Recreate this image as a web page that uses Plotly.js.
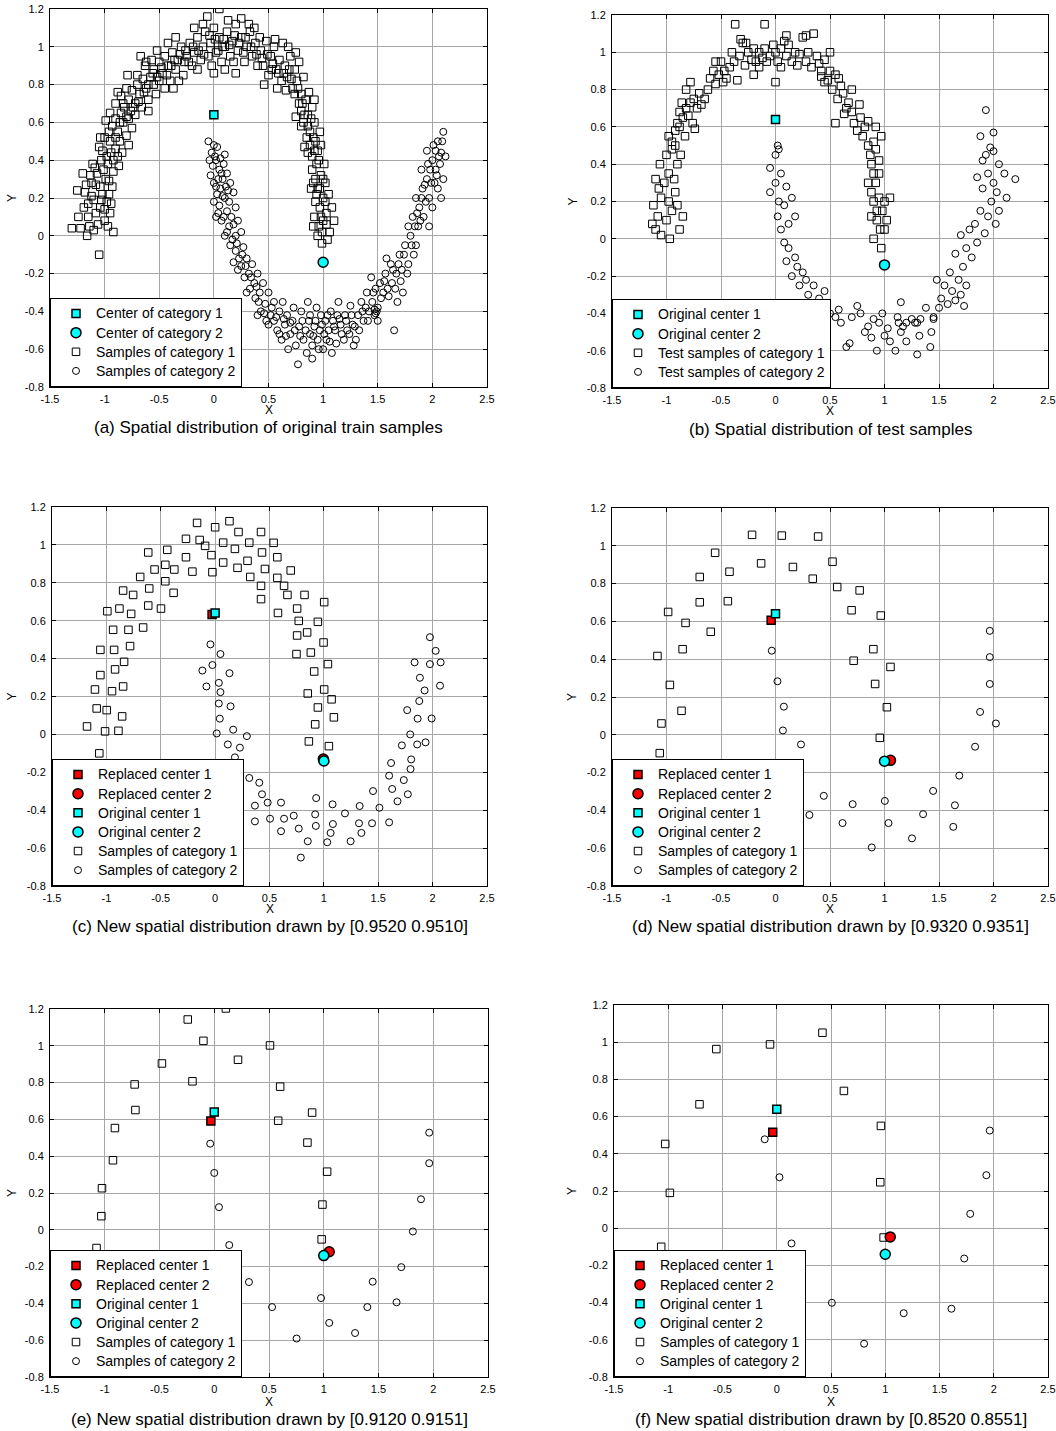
<!DOCTYPE html>
<html>
<head>
<meta charset="utf-8">
<script src="https://cdn.plot.ly/plotly-3.0.1.min.js"></script>
<style>html,body{margin:0;padding:0;background:#fff}#chart{width:1056px;height:1431px}</style>
</head>
<body>
<div id="chart"></div>
<script>
// ---------- tick labels ----------
const xTickVals = [-1.5,-1,-0.5,0,0.5,1,1.5,2,2.5];
const xTickText = ['-1.5','-1','-0.5','0','0.5','1','1.5','2','2.5'];
const yTickVals = [-0.8,-0.6,-0.4,-0.2,0,0.2,0.4,0.6,0.8,1,1.2];
const yTickText = ['-0.8','-0.6','-0.4','-0.2','0','0.2','0.4','0.6','0.8','1','1.2'];

// ---------- captions ----------
const captions = [
  '(a) Spatial distribution of original train samples',
  '(b) Spatial distribution of test samples',
  '(c) New spatial distribution drawn by [0.9520 0.9510]',
  '(d) New spatial distribution drawn by [0.9320 0.9351]',
  '(e) New spatial distribution drawn by [0.9120 0.9151]',
  '(f) New spatial distribution drawn by [0.8520 0.8551]'
];

// ---------- centers ----------
const origCenter1 = [0.0, 0.64];
const origCenter2 = [1.0, -0.14];
const replCenter1_c = [-0.028, 0.633];
const replCenter2_c = [0.995, -0.13];
const replCenter1_d = [-0.04, 0.606];
const replCenter2_d = [1.055, -0.135];
const replCenter1_e = [-0.031, 0.591];
const replCenter2_e = [1.05, -0.119];
const replCenter1_f = [-0.037, 0.516];
const replCenter2_f = [1.046, -0.047];

// ---------- (a) original train samples ----------
const a_cat1 = [
[-1.22,0.04],[-1.25,0.24],[-1.18,0.23],[-1.12,0.21],[-1.15,0.1],[-1.1,0.03],[-1.05,-0.1],[-1.2,0.33],[-1.13,0.32],[-1.08,0.27],
[-1.02,0.22],[-0.98,0.18],[-0.95,0.12],[-1.0,0.08],[-1.08,0.12],[-1.04,0.15],[-0.92,0.02],[-0.99,0.3],[-1.15,0.17],[-1.06,0.06],
[-0.93,0.26],[-1.01,0.35],[-1.09,0.36],[-0.96,0.22],[-1.3,0.04],[-1.17,0.27],[-1.03,0.19],[-0.97,0.05],[-1.12,0.28],[-0.94,0.17],
[-1.05,0.47],[-1.02,0.45],[-0.98,0.42],[-0.95,0.5],[-0.92,0.4],[-0.9,0.46],[-0.88,0.55],[-0.97,0.38],[-1.0,0.52],[-0.93,0.58],
[-0.86,0.5],[-0.84,0.44],[-0.9,0.62],[-0.8,0.53],[-0.96,0.55],[-0.92,0.34],[-0.87,0.37],[-1.03,0.4],[-0.83,0.6],[-0.78,0.48],
[-0.99,0.61],[-0.85,0.65],[-0.75,0.57],[-0.88,0.42],[-0.8,0.63],
[-0.95,0.65],[-0.9,0.7],[-0.85,0.74],[-0.82,0.68],[-0.78,0.72],[-0.75,0.77],[-0.72,0.7],[-0.7,0.8],[-0.76,0.66],[-0.8,0.78],
[-0.68,0.75],[-0.65,0.83],[-0.62,0.78],[-0.6,0.72],[-0.72,0.64],[-0.66,0.68],[-0.58,0.84],[-0.55,0.8],[-0.7,0.85],[-0.63,0.9],
[-0.88,0.76],[-0.6,0.66],[-0.53,0.75],[-0.79,0.85],[-0.67,0.95],
[-0.55,0.88],[-0.5,0.92],[-0.47,0.86],[-0.45,0.95],[-0.42,0.9],[-0.4,0.82],[-0.38,0.97],[-0.35,0.88],[-0.33,0.93],[-0.3,1.0],
[-0.28,0.85],[-0.25,0.95],[-0.22,1.02],[-0.2,0.9],[-0.5,0.82],[-0.45,0.78],[-0.37,0.78],[-0.52,0.98],[-0.42,1.02],[-0.32,0.82],
[-0.27,0.92],[-0.18,0.97],[-0.15,1.05],[-0.57,0.93],[-0.35,1.05],
[-0.12,0.93],[-0.1,1.0],[-0.08,1.08],[-0.05,0.95],[-0.03,1.02],[0.0,1.1],[0.02,0.97],[0.05,1.05],[0.07,0.92],[0.1,1.0],
[0.12,1.08],[0.15,0.95],[0.17,1.03],[0.2,1.12],[0.22,0.98],[0.25,1.05],[0.28,0.92],[0.3,1.0],[0.33,1.08],[0.35,0.95],
[0.38,1.02],[0.4,0.9],[-0.06,1.16],[0.05,1.2],[0.13,1.14],[0.25,1.15],[-0.15,0.88],[0.0,0.86],[0.1,0.88],[0.2,0.86],
[-0.02,0.9],[0.27,0.97],[0.32,1.12],[-0.1,1.12],[0.08,1.0],[0.18,0.92],[-0.18,1.1],[0.42,1.05],
[0.43,0.98],[0.45,0.9],[0.48,1.03],[0.5,0.85],[0.52,0.95],[0.55,1.0],[0.57,0.88],[0.6,0.93],[0.62,0.82],[0.63,1.02],
[0.65,0.9],[0.67,0.84],[0.7,0.95],[0.72,0.78],[0.74,0.88],[0.76,0.82],[0.78,0.92],[0.8,0.75],[0.46,0.8],[0.58,0.78],
[0.68,1.0],[0.53,0.88],[0.66,0.77],[0.82,0.84],[0.75,0.97],
[0.78,0.7],[0.8,0.66],[0.82,0.6],[0.84,0.72],[0.86,0.64],[0.88,0.55],[0.9,0.68],[0.85,0.52],[0.92,0.6],[0.88,0.48],
[0.9,0.42],[0.93,0.5],[0.95,0.45],[0.97,0.55],[0.8,0.58],[0.75,0.63],[0.83,0.47],[0.94,0.38],[0.87,0.76],[0.98,0.48],[0.92,0.72],
[0.9,0.35],[0.93,0.3],[0.95,0.25],[0.98,0.32],[1.0,0.2],[1.02,0.28],[0.97,0.15],[0.93,0.18],[1.03,0.12],[1.05,0.22],
[0.96,0.05],[1.0,0.08],[1.06,0.02],[0.92,0.1],[0.99,-0.04],[1.08,0.15],[1.01,0.38],[0.89,0.25],[1.04,-0.02],[0.95,0.0],[0.98,0.1],[1.1,0.08],
[-1.19,0.15],[-1.14,0.05],[-1.1,0.19],[-1.07,0.33],[-1.04,0.26],[-1.0,0.14],[-0.96,0.29],[-1.11,0.38],[-1.04,0.52],[-0.94,0.44],
[-0.9,0.52],[-0.86,0.6],[-0.83,0.7],[-0.78,0.62],[-0.74,0.68],[-0.69,0.71],[-0.64,0.76],[-0.6,0.8],[-0.56,0.86],[-0.52,0.84],
[-0.48,0.89],[-0.43,0.85],[-0.39,0.9],[-0.36,0.93],[-0.31,0.96],[-0.26,0.98],[-0.23,0.92],[-0.19,1.0],[-0.14,0.98],[-0.09,0.96],
[-0.04,1.06],[0.01,1.04],[0.04,0.98],[0.09,1.04],[0.14,1.01],[0.19,1.06],[0.23,1.02],[0.29,1.05],[0.34,1.0],[0.39,0.96],
[0.44,0.94],[0.49,0.96],[0.54,0.91],[0.59,0.86],[0.64,0.86],[0.69,0.88],[0.71,0.83],[0.74,0.75],[0.77,0.78],[0.81,0.7],
[0.83,0.64],[0.86,0.58],[0.89,0.62],[0.91,0.52],[0.86,0.44],[0.92,0.45],[0.96,0.4],[0.91,0.28],[0.97,0.25],[1.0,0.3],
[0.94,0.22],[1.02,0.18],[0.99,0.02],[1.03,0.06],[0.91,0.05],[-1.16,0.0],[-1.24,0.1],[-0.62,0.92],[0.37,1.1],[0.56,1.04]
];
const a_cat2 = [
[-0.05,0.5],[0.0,0.48],[0.03,0.47],[-0.02,0.44],[0.1,0.43],[0.02,0.4],[0.05,0.35],[-0.03,0.32],[0.08,0.3],[0.12,0.33],
[0.0,0.28],[0.06,0.25],[0.15,0.28],[0.03,0.22],[0.1,0.2],[0.18,0.23],[0.05,0.16],[0.12,0.13],[0.2,0.15],[0.07,0.08],
[0.14,0.05],[0.02,0.1],[0.22,0.08],[0.1,0.0],[0.17,-0.02],[0.04,0.3],[0.09,0.38],[0.13,0.24],[-0.01,0.37],[0.16,0.1],[0.25,0.02],[0.0,0.18],
[0.15,-0.05],[0.2,-0.08],[0.23,-0.12],[0.27,-0.06],[0.25,-0.16],[0.3,-0.12],[0.32,-0.2],[0.28,-0.22],[0.35,-0.15],[0.37,-0.25],
[0.4,-0.2],[0.33,-0.28],[0.42,-0.3],[0.45,-0.25],[0.38,-0.33],[0.47,-0.36],[0.5,-0.3],[0.43,-0.4],[0.52,-0.42],[0.55,-0.35],
[0.48,-0.45],[0.22,-0.18],[0.3,-0.3],[0.4,-0.42],[0.18,-0.14],
[0.55,-0.45],[0.58,-0.5],[0.6,-0.4],[0.62,-0.55],[0.65,-0.47],[0.67,-0.42],[0.7,-0.52],[0.72,-0.45],[0.75,-0.58],[0.77,-0.68],
[0.78,-0.48],[0.8,-0.4],[0.82,-0.55],[0.85,-0.62],[0.87,-0.45],[0.88,-0.52],[0.9,-0.58],[0.92,-0.48],[0.94,-0.38],[0.95,-0.55],
[0.97,-0.5],[1.0,-0.6],[1.02,-0.45],[1.03,-0.55],[1.05,-0.5],[1.07,-0.4],[1.1,-0.48],[1.12,-0.57],[1.15,-0.44],[1.17,-0.52],
[1.2,-0.42],[1.22,-0.5],[1.25,-0.37],[1.27,-0.47],[1.3,-0.55],[1.32,-0.42],[0.63,-0.35],[0.73,-0.38],[0.9,-0.65],[1.08,-0.62],
[0.98,-0.42],[1.28,-0.58],[0.68,-0.6],[0.86,-0.35],[1.14,-0.35],
[1.35,-0.35],[1.37,-0.45],[1.4,-0.3],[1.42,-0.4],[1.45,-0.35],[1.47,-0.42],[1.48,-0.28],[1.5,-0.38],[1.52,-0.25],[1.55,-0.3],
[1.57,-0.2],[1.6,-0.32],[1.62,-0.15],[1.63,-0.25],[1.65,-0.5],[1.67,-0.2],[1.7,-0.1],[1.72,-0.18],[1.75,-0.05],[1.73,-0.3],
[1.58,-0.12],[1.68,-0.35],[1.5,-0.45],[1.78,-0.15],[1.44,-0.22],
[1.8,0.0],[1.82,0.1],[1.85,-0.05],[1.87,0.05],[1.88,0.15],[1.9,0.2],[1.92,0.1],[1.93,0.27],[1.95,0.3],[1.97,0.2],
[1.98,0.35],[2.0,0.4],[2.02,0.28],[2.03,0.45],[2.05,0.5],[2.07,0.38],[2.08,0.44],[2.1,0.3],[2.0,0.15],[1.95,0.45],
[2.05,0.25],[1.9,0.35],[1.85,0.2],[2.1,0.55],[2.12,0.42],[1.97,0.05],[1.83,-0.1],[2.03,0.35],[1.78,0.05],[2.08,0.2],
[0.01,0.42],[0.06,0.41],[-0.04,0.4],[0.07,0.33],[0.02,0.26],[0.11,0.26],[0.08,0.21],[0.14,0.18],[0.04,0.12],[0.09,0.1],
[0.18,0.06],[0.12,0.02],[0.2,0.0],[0.21,-0.04],[0.26,-0.1],[0.29,-0.16],[0.34,-0.22],[0.39,-0.27],[0.41,-0.35],[0.46,-0.41],
[0.5,-0.47],[0.53,-0.38],[0.57,-0.43],[0.6,-0.52],[0.64,-0.44],[0.66,-0.53],[0.7,-0.46],[0.74,-0.5],[0.79,-0.53],[0.81,-0.45],
[0.84,-0.5],[0.88,-0.42],[0.91,-0.53],[0.93,-0.45],[0.96,-0.6],[0.99,-0.47],[1.01,-0.52],[1.04,-0.42],[1.06,-0.56],[1.09,-0.45],
[1.11,-0.5],[1.13,-0.42],[1.16,-0.47],[1.19,-0.55],[1.21,-0.45],[1.24,-0.52],[1.26,-0.42],[1.29,-0.48],[1.33,-0.5],[1.36,-0.4],
[1.39,-0.38],[1.41,-0.45],[1.46,-0.3],[1.49,-0.4],[1.53,-0.33],[1.56,-0.24],[1.59,-0.28],[1.64,-0.18],[1.66,-0.28],[1.69,-0.15],
[1.71,-0.24],[1.74,-0.1],[1.77,-0.2],[1.81,-0.05],[1.84,0.05],[1.86,0.12],[1.89,0.08],[1.91,0.25],[1.94,0.18],[1.96,0.38],
[1.99,0.28],[2.01,0.48],[2.04,0.32],[2.06,0.42],[2.09,0.5],[1.47,-0.39],[1.48,-0.41]
];

// ---------- (b) test samples ----------
const b_cat1 = [
[-1.1,0.05],[-1.05,0.02],[-1.0,0.1],[-1.08,0.12],[-1.12,0.18],[-1.05,0.22],[-0.98,0.2],[-0.95,0.15],[-1.02,0.3],[-1.1,0.32],
[-0.92,0.25],[-0.9,0.18],[-0.97,0.0],[-0.88,0.05],[-1.06,0.4],[-0.98,0.35],[-0.93,0.32],[-0.9,0.4],[-1.0,0.45],[-0.95,0.48],
[-0.87,0.45],[-1.07,0.27],[-0.85,0.12],[-1.13,0.08],
[-0.98,0.55],[-0.95,0.52],[-0.92,0.58],[-0.9,0.62],[-0.88,0.6],[-0.85,0.65],[-0.82,0.7],[-0.8,0.66],[-0.78,0.73],[-0.75,0.75],
[-0.72,0.7],[-0.7,0.78],[-0.83,0.55],[-0.76,0.62],[-0.88,0.68],[-0.92,0.5],[-0.68,0.72],[-0.65,0.75],[-0.82,0.8],[-0.78,0.84],
[-0.74,0.59],[-0.86,0.73],
[-0.62,0.8],[-0.6,0.86],[-0.57,0.9],[-0.55,0.83],[-0.52,0.88],[-0.5,0.95],[-0.47,0.9],[-0.45,0.86],[-0.42,0.92],[-0.4,1.0],
[-0.38,0.95],[-0.35,0.85],[-0.33,0.98],[-0.3,1.05],[-0.28,0.93],[-0.25,1.0],[-0.22,0.96],[-0.37,1.15],[-0.32,1.07],[-0.27,1.05],
[-0.2,1.02],[-0.18,0.95],[-0.55,0.95],[-0.48,0.84],
[-0.15,1.0],[-0.12,0.97],[-0.1,1.02],[-0.08,0.95],[-0.1,1.15],[-0.05,0.98],[-0.02,1.04],[0.0,1.0],[0.02,0.95],[0.05,1.02],
[0.08,1.06],[0.1,0.98],[0.12,1.04],[0.15,0.95],[0.18,1.0],[0.2,0.93],[0.22,0.99],[0.25,1.08],[0.28,0.95],[0.3,1.0],
[0.33,0.92],[0.35,1.1],[0.05,0.92],[-0.15,0.92],[0.0,0.84],[0.1,1.09],[0.28,1.09],[-0.2,0.88],
[0.38,0.98],[0.4,0.94],[0.42,0.9],[0.45,0.96],[0.48,0.85],[0.5,0.9],[0.52,0.8],[0.55,0.88],[0.57,0.75],[0.6,0.82],
[0.62,0.78],[0.65,0.7],[0.5,1.0],[0.45,0.84],[0.55,0.62],[0.63,0.67],[0.67,0.73],[0.7,0.8],[0.58,0.86],[0.42,0.87],
[0.7,0.68],[0.72,0.62],[0.75,0.58],[0.77,0.72],[0.78,0.65],[0.8,0.55],[0.82,0.6],[0.85,0.5],[0.87,0.45],[0.9,0.52],
[0.92,0.48],[0.88,0.4],[0.95,0.42],[0.85,0.63],[0.92,0.6],[0.97,0.55],[0.9,0.35],
[0.85,0.3],[0.88,0.25],[0.9,0.2],[0.92,0.3],[0.95,0.22],[0.98,0.15],[1.0,0.2],[0.93,0.1],[0.96,0.05],[0.9,0.0],
[1.02,0.1],[0.97,-0.05],[0.93,0.15],[1.05,0.22],[0.88,0.12],[1.0,0.05],[0.95,0.35]
];
const b_cat2 = [
[1.93,0.69],[1.88,0.55],[2.0,0.57],[1.97,0.49],[2.0,0.47],[1.93,0.45],[2.05,0.4],[1.9,0.42],[2.2,0.32],[2.1,0.35],
[1.95,0.35],[2.0,0.3],[1.85,0.33],[2.03,0.25],[1.98,0.2],[2.12,0.22],[1.9,0.27],[1.95,0.12],[2.02,0.08],[1.88,0.15],
[1.83,0.08],[2.05,0.15],[1.78,0.05],[1.92,0.03],
[1.85,-0.02],[1.7,0.02],[1.75,-0.05],[1.8,-0.1],[1.65,-0.08],[1.72,-0.15],[1.6,-0.18],[1.68,-0.22],[1.75,-0.25],[1.62,-0.28],
[1.7,-0.3],[1.55,-0.25],[1.58,-0.35],[1.65,-0.33],[1.52,-0.32],[1.48,-0.22],[1.5,-0.37],[1.45,-0.42],[1.38,-0.37],[1.73,-0.36],
[1.43,-0.5],[1.45,-0.43],[1.42,-0.58],[1.33,-0.43],[1.32,-0.52],[1.3,-0.62],[1.28,-0.45],[1.25,-0.43],[1.2,-0.55],[1.17,-0.47],
[1.15,-0.5],[1.13,-0.45],[1.12,-0.42],[1.1,-0.6],[1.15,-0.34],[1.05,-0.55],[1.03,-0.48],[1.0,-0.52],[0.98,-0.4],[0.95,-0.45],
[0.93,-0.6],[0.9,-0.43],[0.88,-0.53],[0.85,-0.47],[0.82,-0.5],[0.75,-0.36],[0.78,-0.4],[0.7,-0.42],[0.68,-0.56],[0.65,-0.58],
[0.6,-0.45],[0.58,-0.38],[0.55,-0.42],[0.5,-0.4],[1.3,-0.45],[1.2,-0.45],
[0.47,-0.35],[0.45,-0.28],[0.4,-0.32],[0.37,-0.35],[0.35,-0.25],[0.3,-0.3],[0.28,-0.22],[0.25,-0.18],[0.22,-0.25],[0.2,-0.15],
[0.18,-0.1],[0.15,-0.2],[0.12,-0.05],[0.1,-0.12],[0.08,-0.02],[0.05,0.05],[0.12,0.08],[0.02,0.12],[0.08,0.18],[0.03,0.2],
[0.15,0.22],[-0.05,0.25],[0.0,0.3],[0.05,0.35],[-0.05,0.38],[0.0,0.45],[0.02,0.5],[0.03,0.48],[0.1,0.28],[0.18,0.12]
];

// ---------- (c) ----------
const c_cat1 = [
[-0.166,1.116],[0.132,1.125],[0.0,1.093],[0.215,1.068],[0.422,1.068],[-0.268,1.032],[-0.142,1.026],[-0.092,0.995],[0.074,1.012],[0.314,1.012],
[0.538,1.011],[0.182,0.979],[-0.615,0.96],[-0.44,0.974],[-0.034,0.946],[0.431,0.96],[-0.268,0.935],[0.572,0.935],[0.298,0.916],[0.074,0.907],
[-0.557,0.87],[-0.458,0.895],[-0.375,0.87],[-0.209,0.859],[-0.025,0.856],[0.206,0.879],[0.458,0.873],[0.695,0.865],[-0.689,0.831],[0.323,0.831],
[0.572,0.826],[-0.458,0.808],[0.422,0.784],[0.634,0.784],[-0.846,0.759],[-0.606,0.77],[-0.754,0.736],[-0.382,0.747],[0.665,0.736],[0.822,0.736],
[0.422,0.714],[1.003,0.698],[-0.615,0.68],[-0.991,0.65],[-0.88,0.664],[-0.498,0.664],[-0.772,0.636],[0.578,0.641],[0.754,0.664],[-0.938,0.552],
[-0.797,0.552],[-0.662,0.564],[0.769,0.599],[0.945,0.594],[0.846,0.538],[0.754,0.522],[0.997,0.485],[-1.055,0.446],[-0.929,0.446],[-0.782,0.466],
[0.748,0.424],[0.88,0.432],[-0.837,0.383],[-0.92,0.343],[1.037,0.371],[-1.055,0.313],[0.911,0.332],[-1.105,0.237],[-0.948,0.228],[-0.846,0.253],
[0.852,0.216],[1.003,0.237],[1.071,0.185],[-1.089,0.137],[-0.997,0.128],[-0.855,0.095],[0.945,0.142],[1.092,0.09],[-1.178,0.042],[-1.012,0.016],
[-0.889,0.019],[0.92,0.053],[-1.065,-0.1],[0.862,-0.037],[1.046,-0.062]
];
const c_cat2 = [
[1.975,0.513],[-0.043,0.475],[2.028,0.441],[0.049,0.424],[1.834,0.38],[1.975,0.371],[2.074,0.38],[-0.117,0.337],[-0.025,0.366],[0.132,0.323],
[1.883,0.299],[-0.08,0.253],[0.034,0.272],[0.049,0.223],[1.926,0.232],[2.068,0.257],[1.877,0.176],[0.034,0.163],[0.142,0.148],[1.766,0.128],
[0.043,0.083],[1.862,0.083],[1.991,0.084],[0.166,0.025],[0.015,0.005],[0.292,-0.009],[1.794,0.0],[0.117,-0.053],[0.228,-0.07],[1.717,-0.058],
[1.858,-0.053],[1.935,-0.042],[0.182,-0.121],[1.803,-0.132],[1.618,-0.151],[0.098,-0.172],[0.215,-0.188],[1.797,-0.183],[0.314,-0.23],[0.406,-0.255],
[1.6,-0.218],[1.735,-0.241],[1.452,-0.299],[0.431,-0.316],[1.628,-0.288],[1.772,-0.316],[0.929,-0.336],[0.483,-0.36],[0.606,-0.36],[1.677,-0.353],
[0.366,-0.376],[1.08,-0.369],[1.329,-0.378],[1.511,-0.387],[1.194,-0.417],[0.92,-0.422],[0.723,-0.429],[0.366,-0.459],[0.505,-0.445],[0.634,-0.445],
[1.323,-0.469],[1.443,-0.469],[1.6,-0.464],[1.083,-0.473],[0.926,-0.483],[0.606,-0.511],[0.769,-0.497],[1.062,-0.52],[1.345,-0.52],[0.852,-0.564],
[1.031,-0.569],[1.246,-0.564],[0.788,-0.65]
];

// ---------- (d) ----------
const d_cat1 = [
[-0.215,1.058],[0.058,1.054],[0.391,1.049],[-0.554,0.963],[-0.132,0.907],[0.16,0.888],[0.523,0.916],[-0.695,0.835],[-0.422,0.863],[0.342,0.826],
[0.566,0.782],[0.772,0.764],[-0.695,0.701],[-0.437,0.707],[-0.985,0.65],[0.698,0.659],[0.966,0.631],[-0.825,0.592],[-0.594,0.545],[-0.852,0.453],
[-1.083,0.417],[0.898,0.453],[0.717,0.392],[1.055,0.359],[-0.969,0.264],[0.914,0.269],[-0.862,0.127],[1.022,0.146],[-1.046,0.06],[0.957,-0.016],
[-1.062,-0.097]
];
const d_cat2 = [
[1.966,0.55],[-0.034,0.445],[1.966,0.411],[0.018,0.283],[1.966,0.269],[0.077,0.149],[1.877,0.121],[2.022,0.06],[0.068,0.023],[0.234,-0.051],
[1.831,-0.063],[0.209,-0.179],[1.686,-0.216],[1.446,-0.297],[0.443,-0.323],[0.708,-0.367],[1.003,-0.35],[1.646,-0.373],[0.311,-0.424],[1.354,-0.42],
[0.615,-0.467],[1.037,-0.467],[1.631,-0.487],[1.252,-0.548],[0.883,-0.596]
];

// ---------- (e) ----------
const e_cat1 = [
[0.106,1.203],[-0.242,1.143],[-0.099,1.027],[0.509,1.002],[-0.478,0.904],[0.217,0.924],[-0.727,0.79],[-0.199,0.807],[0.602,0.778],[-0.72,0.651],
[0.894,0.637],[-0.907,0.553],[0.584,0.593],[-0.925,0.378],[0.851,0.474],[1.031,0.316],[-1.025,0.226],[0.988,0.137],[-1.031,0.074],[0.981,-0.052],
[-1.075,-0.099]
];
const e_cat2 = [
[-0.037,0.468],[1.963,0.528],[0.0,0.309],[1.963,0.362],[0.043,0.123],[1.888,0.166],[1.814,-0.009],[0.137,-0.083],[1.708,-0.203],[0.317,-0.284],
[1.447,-0.282],[0.975,-0.371],[1.665,-0.394],[0.528,-0.42],[1.398,-0.42],[1.05,-0.506],[1.286,-0.561],[0.752,-0.591]
];

// ---------- (f) ----------
const f_cat1 = [
[0.421,1.051],[-0.062,0.988],[-0.557,0.963],[0.619,0.738],[-0.712,0.666],[0.96,0.55],[-1.028,0.453],[0.954,0.247],[-0.985,0.19],[0.985,-0.05],
[-1.065,-0.1]
];
const f_cat2 = [
[1.963,0.525],[-0.111,0.478],[0.025,0.274],[1.932,0.285],[1.783,0.077],[0.136,-0.082],[1.728,-0.163],[0.508,-0.401],[1.17,-0.457],[1.61,-0.433],
[0.805,-0.621]
];

// ---------- panel geometry (pixels) ----------
const W = 1056, H = 1431;
const panels = [
  {px:[50,487],  py:[9,387],    cat1:a_cat1, cat2:a_cat2, names:['Center of category 1','Center of category 2','Samples of category 1','Samples of category 2'], repl:null, capY:428, xlabY:410, ylabX:12},
  {px:[612,1048],py:[15,388],   cat1:b_cat1, cat2:b_cat2, names:['Original center 1','Original center 2','Test samples of category 1','Test samples of category 2'], repl:null, capY:429, xlabY:411, ylabX:572},
  {px:[52,487],  py:[507,886],  cat1:c_cat1, cat2:c_cat2, names:['Original center 1','Original center 2','Samples of category 1','Samples of category 2'], repl:[replCenter1_c,replCenter2_c], capY:926, xlabY:909, ylabX:12},
  {px:[612,1048],py:[508,886],  cat1:d_cat1, cat2:d_cat2, names:['Original center 1','Original center 2','Samples of category 1','Samples of category 2'], repl:[replCenter1_d,replCenter2_d], capY:926, xlabY:909, ylabX:572},
  {px:[50,488],  py:[1009,1377],cat1:e_cat1, cat2:e_cat2, names:['Original center 1','Original center 2','Samples of category 1','Samples of category 2'], repl:[replCenter1_e,replCenter2_e], capY:1419, xlabY:1402, ylabX:12},
  {px:[614,1048],py:[1005,1377],cat1:f_cat1, cat2:f_cat2, names:['Original center 1','Original center 2','Samples of category 1','Samples of category 2'], repl:[replCenter1_f,replCenter2_f], capY:1419, xlabY:1402, ylabX:572}
];

const FONT = 'Liberation Sans, Arial, sans-serif';
const traces = [];
const layout = {
  width: W, height: H,
  margin: {l:0, r:0, t:0, b:0},
  paper_bgcolor: '#ffffff', plot_bgcolor: '#ffffff',
  font: {family: FONT, color: '#000', size: 11},
  showlegend: true,
  annotations: []
};

function xs(arr){ return arr.map(p => p[0]); }
function ys(arr){ return arr.map(p => p[1]); }
function lname(t){ return '<span style="font-size:14px">' + t + '</span>'; }

panels.forEach((p, i) => {
  const k = i + 1;
  const xa = 'x' + (k === 1 ? '' : k), ya = 'y' + (k === 1 ? '' : k);
  const xkey = 'xaxis' + (k === 1 ? '' : k), ykey = 'yaxis' + (k === 1 ? '' : k);
  const lg = 'legend' + (k === 1 ? '' : k);
  const dx = [p.px[0] / W, p.px[1] / W];
  const dy = [1 - p.py[1] / H, 1 - p.py[0] / H];
  const axCommon = {
    showline: true, linecolor: '#000', linewidth: 1, mirror: 'ticks',
    ticks: 'inside', ticklen: 4, tickcolor: '#000', tickwidth: 1,
    showgrid: true, gridcolor: '#a6a6a6', gridwidth: 1,
    zeroline: false, tickfont: {family: FONT, size: 11, color: '#000'},
    fixedrange: true
  };
  layout[xkey] = Object.assign({}, axCommon, {
    domain: dx, range: [-1.5, 2.5], anchor: ya,
    tickmode: 'array', tickvals: xTickVals, ticktext: xTickText, ticklabelstandoff: 2
  });
  layout[ykey] = Object.assign({}, axCommon, {
    domain: dy, range: [-0.8, 1.2], anchor: xa,
    tickmode: 'array', tickvals: yTickVals, ticktext: yTickText, ticklabelstandoff: 3
  });

  const sampleMarker = (sym) => ({symbol: sym, size: sym === 'square-open' ? 7.5 : 7, color: '#000', line: {width: 1, color: '#000'}});
  traces.push({type:'scatter', mode:'markers', x: xs(p.cat1), y: ys(p.cat1), xaxis: xa, yaxis: ya, legend: lg,
    name: lname(p.names[2]), marker: sampleMarker('square-open'), legendrank: 5, hoverinfo:'skip'});
  traces.push({type:'scatter', mode:'markers', x: xs(p.cat2), y: ys(p.cat2), xaxis: xa, yaxis: ya, legend: lg,
    name: lname(p.names[3]), marker: sampleMarker('circle-open'), legendrank: 6, hoverinfo:'skip'});
  if (p.repl) {
    traces.push({type:'scatter', mode:'markers', x:[p.repl[0][0]], y:[p.repl[0][1]], xaxis: xa, yaxis: ya, legend: lg,
      name: lname('Replaced center 1'), marker:{symbol:'square', size:8, color:'#ff0000', line:{width:1.5, color:'#000'}}, legendrank: 1, hoverinfo:'skip'});
    traces.push({type:'scatter', mode:'markers', x:[p.repl[1][0]], y:[p.repl[1][1]], xaxis: xa, yaxis: ya, legend: lg,
      name: lname('Replaced center 2'), marker:{symbol:'circle', size:10, color:'#ff0000', line:{width:1.5, color:'#000'}}, legendrank: 2, hoverinfo:'skip'});
  }
  traces.push({type:'scatter', mode:'markers', x:[origCenter1[0]], y:[origCenter1[1]], xaxis: xa, yaxis: ya, legend: lg,
    name: lname(p.names[0]), marker:{symbol:'square', size:8, color:'#00ffff', line:{width:1.5, color:'#000'}}, legendrank: 3, hoverinfo:'skip'});
  traces.push({type:'scatter', mode:'markers', x:[origCenter2[0]], y:[origCenter2[1]], xaxis: xa, yaxis: ya, legend: lg,
    name: lname(p.names[1]), marker:{symbol:'circle', size:10, color:'#00ffff', line:{width:1.5, color:'#000'}}, legendrank: 4, hoverinfo:'skip'});

  layout[lg] = {
    x: dx[0], y: dy[0], xref:'paper', yref:'paper', xanchor:'left', yanchor:'bottom',
    bgcolor:'#ffffff', bordercolor:'#000', borderwidth:1, indentation: 5,
    font:{family: FONT, size: 12.4, color:'#000'},
    itemsizing:'trace', tracegroupgap: 0, traceorder:'normal'
  };

  const cx = (p.px[0] + p.px[1]) / 2 / W;
  layout.annotations.push({xref:'paper', yref:'paper', x: cx, y: 1 - p.xlabY / H, text:'X', showarrow:false,
    xanchor:'center', yanchor:'middle', font:{family: FONT, size: 12, color:'#000'}});
  layout.annotations.push({xref:'paper', yref:'paper', x: p.ylabX / W, y: 1 - ((p.py[0] + p.py[1]) / 2) / H, text:'Y', showarrow:false,
    textangle: -90, xanchor:'center', yanchor:'middle', font:{family: FONT, size: 12, color:'#000'}});
  layout.annotations.push({xref:'paper', yref:'paper', x: cx, y: 1 - p.capY / H, text: captions[i], showarrow:false,
    xanchor:'center', yanchor:'middle', font:{family: FONT, size: 17, color:'#000'}});
});

Plotly.newPlot('chart', traces, layout, {displayModeBar:false, staticPlot:true});
</script>
</body>
</html>
